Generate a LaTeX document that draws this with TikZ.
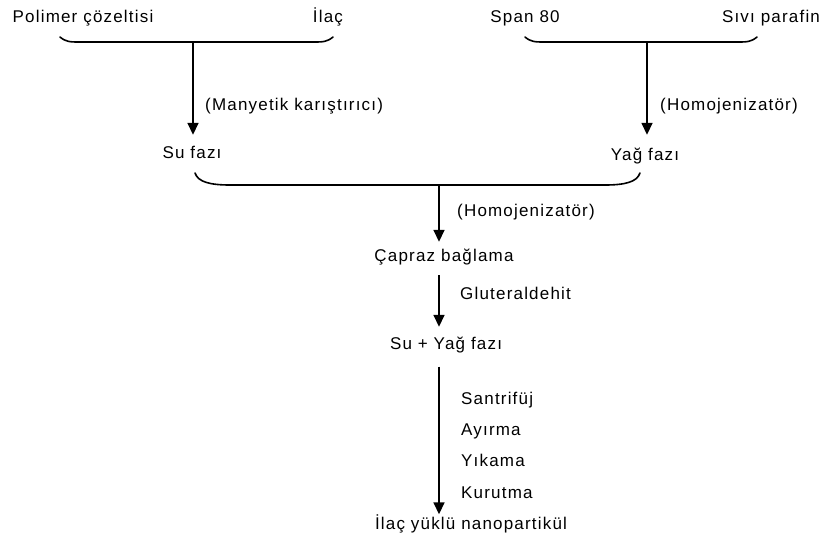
\documentclass[tikz,border=0pt]{standalone}
\usepackage{fontspec}
\setmainfont{Liberation Sans}[LetterSpace=7]
\usetikzlibrary{arrows.meta, positioning, calc}

\tikzset{
  lbl/.style={inner sep=2pt, text height=12pt, text depth=3pt, font=\fontsize{17}{20}\selectfont},
  side/.style={lbl, anchor=west},
  arr/.style={-{Triangle[width=11pt, length=12pt]}, line width=1.6pt},
  bracket/.style={line width=1.6pt, line cap=round}
}

\begin{document}
\begin{tikzpicture}[x=1pt, y=-1pt]
  \useasboundingbox (0,0) rectangle (824,542);
  % starting materials
  \node[lbl] (pol) at (83,18) {Polimer çözeltisi};
  \node[lbl] (ilac) at (328,18) {İlaç};
  \node[lbl] (span) at (525,18) {Span 80};
  \node[lbl] (sivi) at (771,18) {Sıvı parafin};
  % phases
  \node[lbl] (su) at (192,154) {Su fazı};
  \node[lbl] (yag) at (645,156) {Yağ fazı};
  \node[lbl] (capraz) at (444,257) {Çapraz bağlama};
  \node[lbl] (suyag) at (446,345) {Su + Yağ fazı};
  \node[lbl] (son) at (471,525) {İlaç yüklü nanopartikül};

  % brackets
  \draw[bracket] (60,37) .. controls (66,42) and (70,42) .. (80,42) -- (313,42)
    .. controls (323,42) and (327,42) .. (333,37);
  \draw[bracket] (525,37) .. controls (531,42) and (535,42) .. (545,42) -- (737,42)
    .. controls (747,42) and (751,42) .. (757,37);
  \draw[bracket] (195,173) .. controls (198,182) and (210,185) .. (230,185) -- (605,185)
    .. controls (625,185) and (637,182) .. (640,173);
  \coordinate (b1) at (193,42);
  \coordinate (b2) at (647,42);
  \coordinate (b3) at (439,185);

  % arrows
  \draw[arr, shorten >=9.5pt] (b1) -- (b1 |- su.north);
  \draw[arr, shorten >=11.5pt] (b2) -- (b2 |- yag.north);
  \draw[arr, shorten >=5.5pt] (b3) -- (b3 |- capraz.north);
  \draw[arr, shorten <=8.5pt, shorten >=8.5pt] (b3 |- capraz.south) -- (b3 |- suyag.north);
  \draw[arr, shorten <=12pt, shorten >=1pt] (b3 |- suyag.south) -- (b3 |- son.north);

  % process notes
  \node[side] (mk) at (203,106) {(Manyetik karıştırıcı)};
  \node[side] (hm1) at (658,106) {(Homojenizatör)};
  \node[side] (hm2) at (455,212) {(Homojenizatör)};
  \node[side] (glu) at (458,295) {Gluteraldehit};
  \node[side] (san) at (459,400) {Santrifüj};
  \node[side] (ayr) at (459,431) {Ayırma};
  \node[side] (yik) at (459,462) {Yıkama};
  \node[side] (kur) at (459,494) {Kurutma};
\end{tikzpicture}
\end{document}
